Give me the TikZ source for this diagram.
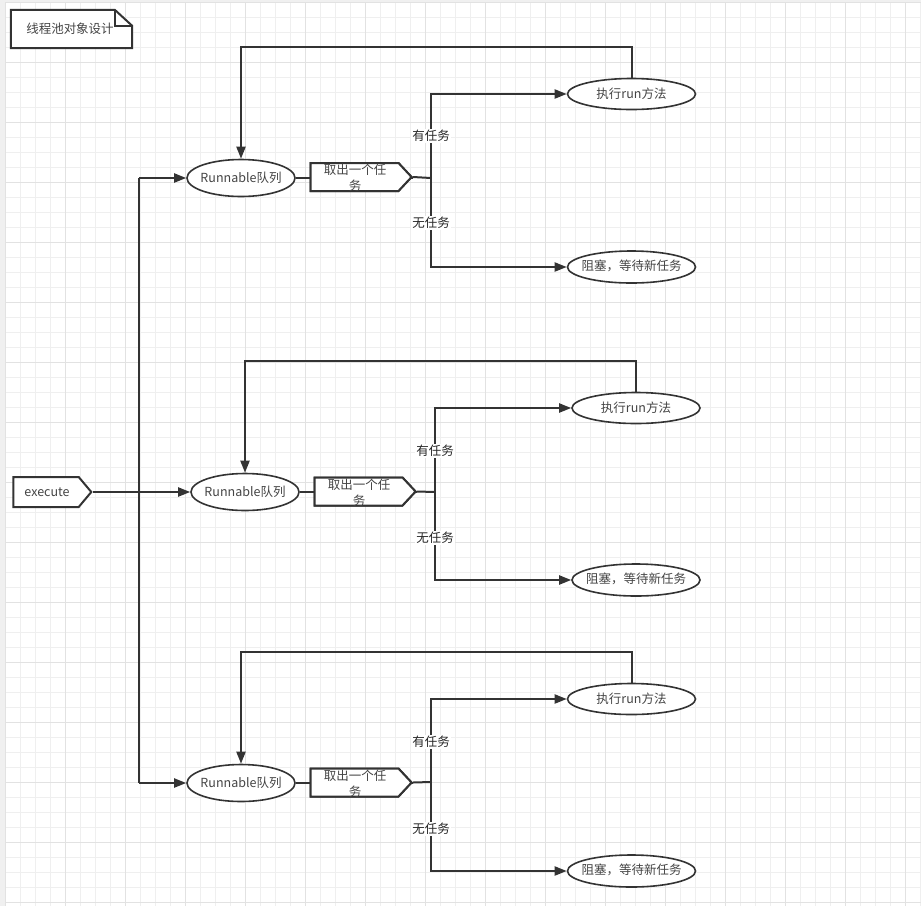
\documentclass[tikz,border=0pt]{standalone}
\usepackage{fontspec}
\setmainfont{Noto Sans CJK SC}
\usetikzlibrary{shapes.geometric,shapes.symbols,arrows.meta}
\definecolor{ln}{HTML}{333333}
\definecolor{tx}{HTML}{444444}
\definecolor{gmin}{HTML}{EFEFEF}
\definecolor{gmaj}{HTML}{E2E2E2}
\definecolor{outer}{HTML}{F0F0F0}
\tikzset{
  base/.style={font=\fontsize{12.5}{16}\selectfont, text=tx},
  qnode/.style={ellipse, draw=ln, line width=1.6pt, fill=white, minimum width=108, minimum height=37, inner sep=0pt, label={[base]center:#1}},
  rnode/.style={ellipse, draw=ln, line width=1.6pt, fill=white, minimum width=128, minimum height=31, inner sep=0pt, label={[base]center:#1}},
  wnode/.style={ellipse, draw=ln, line width=1.6pt, fill=white, minimum width=128, minimum height=32, inner sep=0pt, label={[base, yshift=1.5pt]center:#1}},
  takebox/.style={signal, signal to=east, signal pointer angle=94, draw=ln, line width=2pt, fill=white, minimum width=101, minimum height=28, inner sep=0pt},
  conn/.style={draw=ln, line width=2pt},
  arr/.style={conn, -{Triangle[length=12pt,width=9pt]}},
  lbl/.style={base, text=black!85, fill=white, inner sep=1pt},
  tk/.style={base, align=center, inner sep=0pt},
}
\begin{document}
\begin{tikzpicture}[x=1pt,y=-1pt]
\useasboundingbox (0,0) rectangle (921,906);
\fill[outer] (0,0) rectangle (921,906);
\fill[white] (5,3) rectangle (921,906);
\foreach \i in {0,...,61} \draw[gmin, line width=0.8pt] ({5.7+15*\i},3) -- ({5.7+15*\i},906);
\foreach \j in {0,...,60} \draw[gmin, line width=0.8pt] (5,{2+15*\j}) -- (921,{2+15*\j});
\foreach \i in {0,...,15} \draw[gmaj, line width=0.8pt] ({5.7+60*\i},3) -- ({5.7+60*\i},906);
\foreach \j in {0,...,15} \draw[gmaj, line width=0.8pt] (5,{2+60*\j}) -- (921,{2+60*\j});

% note
\node[inner sep=0pt, minimum width=121, minimum height=38] (note) at (71.5,29) {};
\draw[ln, line width=2pt, fill=white] (note.south west) -- (note.north west) -- ++(104,0) -- ([yshift=-16pt]note.north east) -- (note.south east) -- cycle;
\draw[ln, line width=2pt] ([xshift=-17pt]note.north east) -- ++(0,16) -- ([yshift=-16pt]note.north east);
\node[base, anchor=center] (notetext) at (70,29) {线程池对象设计};

% execute
\node[signal, signal to=east, signal pointer angle=100, draw=ln, line width=2pt, fill=white, minimum width=78, minimum height=30, inner sep=0pt] (exec) at (46,492) {};
\node[base] (exectext) at (47,492) {execute};

% vertical spine
\coordinate (v1) at (139,178);
\coordinate (v3) at (139,783);

% group 1
\node[qnode={Runnable队列}] (q1) at (241,178) {};
\node[takebox] (t1) at (354.5,177) {};
\coordinate (b1) at (431,178);
\node[rnode={执行run方法}] (r1) at (631.5,94) {};
\node[wnode={阻塞，等待新任务}] (w1) at (631.5,267) {};

% group 2
\node[qnode={Runnable队列}] (q2) at (245,492) {};
\node[takebox] (t2) at (358.5,491.5) {};
\coordinate (b2) at (435,492);
\node[rnode={执行run方法}] (r2) at (636,408) {};
\node[wnode={阻塞，等待新任务}] (w2) at (636,580) {};

% group 3
\node[qnode={Runnable队列}] (q3) at (241,783) {};
\node[takebox] (t3) at (354.5,782.5) {};
\coordinate (b3) at (431,782);
\node[rnode={执行run方法}] (r3) at (631.5,699) {};
\node[wnode={阻塞，等待新任务}] (w3) at (631.5,871) {};

% connectors
\draw[conn] (v1) -- (v3);
\draw[arr] (v1) -- (q1.west);
\draw[arr] (v3) -- (q3.west);
\draw[arr] (exec.east) -- (q2.west);

\foreach \g in {1,2,3} {
  \draw[conn, line width=2.6pt] (q\g.east) -- (t\g.east |- q\g.east) ;
}
\foreach \g in {1,2,3} {
  \draw[conn] (t\g.east) -- (b\g);
  \draw[arr] (b\g) |- (r\g.west);
  \draw[arr] (b\g) |- (w\g.west);
  \draw[arr] (r\g.north) -- ++(0,-30.5) -| (q\g.north);
}
% redraw boxes on top of the short connectors
\node[takebox] at (t1) {};
\node[tk] (tt1) at (355,178) {取出一个任\\务};
\node[takebox] at (t2) {};
\node[tk] (tt2) at (359,492.5) {取出一个任\\务};
\node[takebox] at (t3) {};
\node[tk] (tt3) at (355,783.5) {取出一个任\\务};

\node[lbl] (h1) at (431,136) {有任务};
\node[lbl] (n1) at (431,223) {无任务};
\node[lbl] (h2) at (435,451) {有任务};
\node[lbl] (n2) at (435,538) {无任务};
\node[lbl] (h3) at (431,742) {有任务};
\node[lbl] (n3) at (431,829) {无任务};
\end{tikzpicture}
\end{document}
